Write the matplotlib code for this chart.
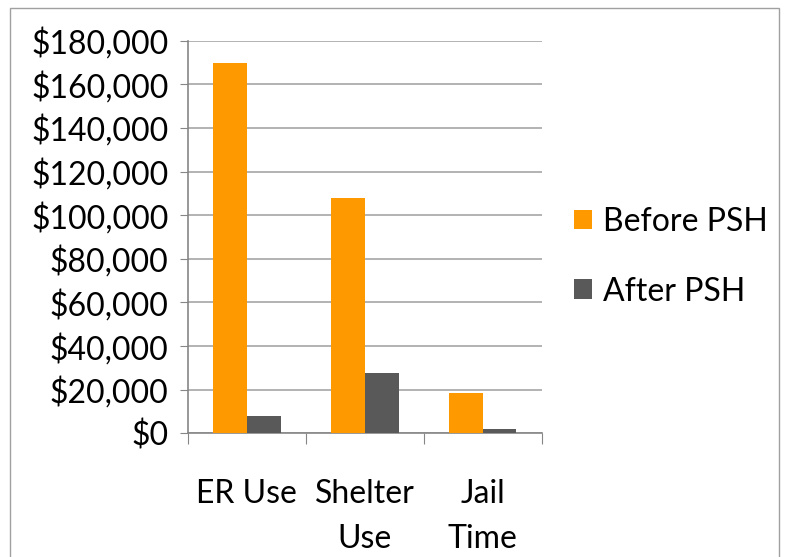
import numpy as np
import matplotlib.pyplot as plt
from matplotlib.patches import Rectangle
from matplotlib.ticker import FuncFormatter

categories = ['ER Use', 'Shelter\nUse', 'Jail\nTime']
before_psh = [170000, 108000, 18500]
after_psh = [8000, 27800, 2000]
series_names = ['Before PSH', 'After PSH']

plt.rcParams['font.family'] = ['Lato', 'DejaVu Sans']

fig = plt.figure(figsize=(7.86, 5.57), dpi=100)
fig.patches.append(Rectangle((10 / 786, -0.1), 769 / 786, 1.1 - 8 / 557,
                             transform=fig.transFigure, fill=False,
                             edgecolor='#a0a0a0', lw=1))
ax = fig.add_axes([188 / 786, 1 - 433.3 / 557, 353.5 / 786, 392.6 / 557])

x = np.arange(len(categories))
w = 0.287
ax.bar(x - w / 2, before_psh, w, color='#ff9900', label=series_names[0], zorder=3)
ax.bar(x + w / 2, after_psh, w, color='#595959', label=series_names[1], zorder=3)

ax.set_xlim(-0.5, 2.5)
ax.set_ylim(0, 180000)
ax.set_yticks(np.arange(0, 180001, 20000))
ax.yaxis.set_major_formatter(FuncFormatter(lambda v, p: '${:,.0f}'.format(v)))
ax.grid(axis='y', color='#a6a6a6', lw=1.2, zorder=0)

ax.set_xticks([-0.5, 0.5, 1.5, 2.5])
ax.set_xticklabels([])
ax.set_xticks(x, minor=True)
ax.set_xticklabels(categories, minor=True, linespacing=1.62)
ax.tick_params(axis='x', which='minor', length=0, pad=33, labelsize=23)
ax.tick_params(axis='x', which='major', length=8, color='#868686', direction='out')
ax.tick_params(axis='y', length=6, color='#868686', labelsize=23, pad=8)

for s in ['top', 'right']:
    ax.spines[s].set_visible(False)
for s in ['left', 'bottom']:
    ax.spines[s].set_color('#868686')
    ax.spines[s].set_linewidth(1.2)

ax.legend(loc='center left', bbox_to_anchor=(1.01, 0.45), frameon=False,
          fontsize=23, handlelength=0.57, handleheight=0.57, handletextpad=0.35,
          labelspacing=1.25)

fig.savefig('out.png', dpi=100)
